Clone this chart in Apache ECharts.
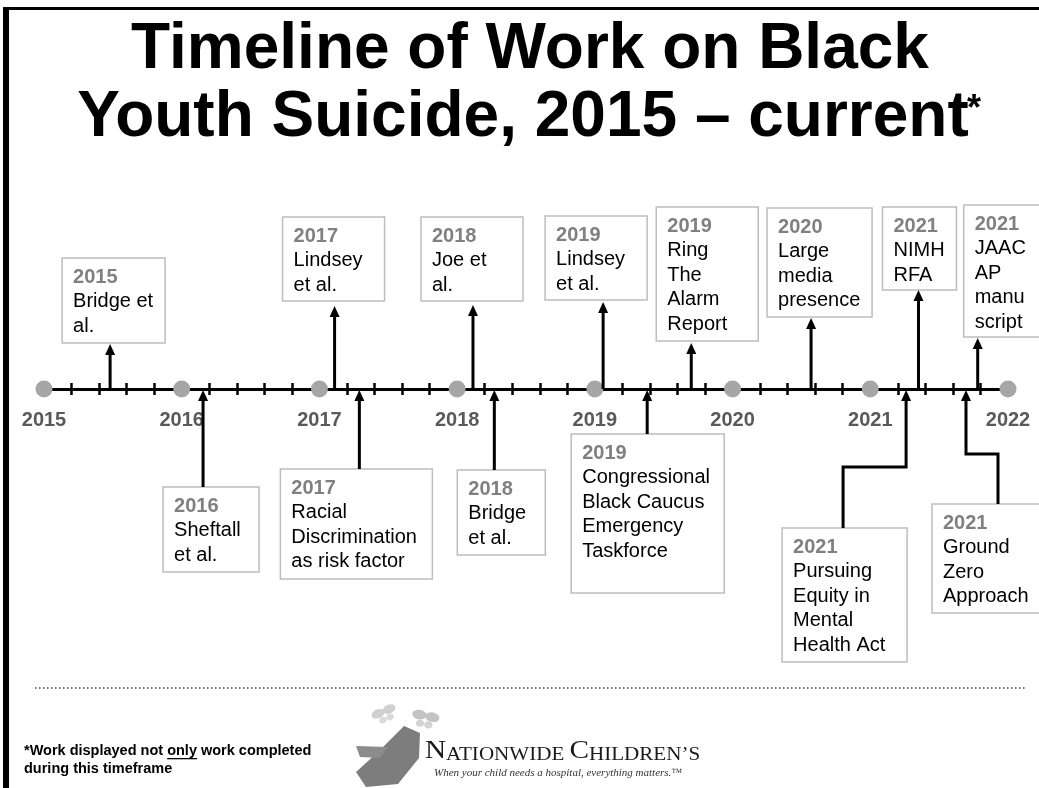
<!DOCTYPE html>
<html><head><meta charset="utf-8">
<script src="https://cdn.jsdelivr.net/npm/echarts@6/dist/echarts.min.js"></script>
<style>html,body{margin:0;padding:0;background:#fff}#c{width:1039px;height:788px}</style>
</head><body><div id="c"></div>
<script>
// ---------------- DATA ----------------
const yearTicks = [2015, 2016, 2017, 2018, 2019, 2020, 2021, 2022];
const yearLabels = ['2015', '2016', '2017', '2018', '2019', '2020', '2021', '2022'];
const eventDates = [2015.48, 2016.155, 2017.11, 2017.29, 2018.115, 2018.27, 2019.06, 2019.38, 2019.70, 2020.57, 2021.26, 2021.35, 2021.695, 2021.78];
const eventYears = ['2015', '2016', '2017', '2017', '2018', '2018', '2019', '2019', '2019', '2020', '2021', '2021', '2021', '2021'];
const eventTexts = [
  'Bridge et\nal.',
  'Sheftall\net al.',
  'Lindsey\net al.',
  'Racial\nDiscrimination\nas risk factor',
  'Joe et\nal.',
  'Bridge\net al.',
  'Lindsey\net al.',
  'Congressional\nBlack Caucus\nEmergency\nTaskforce',
  'Ring\nThe\nAlarm\nReport',
  'Large\nmedia\npresence',
  'Pursuing\nEquity in\nMental\nHealth Act',
  'NIMH\nRFA',
  'Ground\nZero\nApproach',
  'JAAC\nAP\nmanu\nscript'
];
const eventSide = ['up', 'down', 'up', 'down', 'up', 'down', 'up', 'down', 'up', 'up', 'down', 'up', 'down', 'up'];
const titleLines = ['Timeline of Work on Black', 'Youth Suicide, 2015 \u2013 current'];
const footnoteParts = ['*Work displayed not ', 'only', ' work completed'];
const footnoteLine2 = 'during this timeframe';

// ---------------- LAYOUT (box geometry relative to the event anchor) ----------------
const boxLayout = [
  {dx: -48, top: 131, w: 103, h: 85, gap: 1},
  {dx: -40, top: -98, w: 96, h: 85},
  {dx: -52, top: 172, w: 102, h: 84, gap: 5},
  {dx: -79, top: -80, w: 152, h: 110},
  {dx: -52, top: 172, w: 102, h: 84, gap: 4},
  {dx: -37, top: -81, w: 88, h: 85},
  {dx: -58, top: 173, w: 102, h: 84, gap: 2},
  {dx: -76, top: -45, w: 153, h: 159},
  {dx: -35, top: 182, w: 102, h: 134, gap: 2},
  {dx: -44, top: 181, w: 105, h: 109, gap: 1},
  {dx: -124, top: -139, w: 125, h: 134, elbow: {y: -78, dx: -63}},
  {dx: -36, top: 182, w: 74, h: 83, gap: 0},
  {dx: -34, top: -115, w: 110, h: 109, elbow: {y: -65, dx: 32}},
  {dx: -14, top: 184, w: 80, h: 132, gap: 1}
];

const FONT = '"Liberation Sans", Arial, Helvetica, sans-serif';
const SERIF = '"Liberation Serif", "Times New Roman", serif';

function renderItem(params, api) {
  const i = params.dataIndex;
  const L = boxLayout[i];
  const a = api.coord([api.value(0), 0]);
  const ax = a[0], ay = a[1];
  const top = api.coord([api.value(0), L.top])[1];
  const bx = ax + L.dx;
  const children = [];
  children.push({type: 'rect', shape: {x: bx, y: top, width: L.w, height: L.h},
    style: {fill: '#fff', stroke: '#bdbdbd', lineWidth: 1.5}});
  const lines = [eventYears[i]].concat(eventTexts[i].split('\n'));
  lines.forEach(function (t, k) {
    children.push({type: 'text', style: {
      text: t, x: bx + 11, y: top + 19 + k * 24.6, align: 'left', verticalAlign: 'middle',
      fontSize: 20, fontWeight: k === 0 ? 'bold' : 'normal', fontFamily: FONT,
      fill: k === 0 ? '#808080' : '#000'
    }});
  });
  let pts, tipY;
  if (eventSide[i] === 'up') {
    tipY = top + L.h + L.gap;
    pts = [[ax, ay], [ax, tipY + 9]];
  } else {
    tipY = ay + 1;
    if (L.elbow) {
      const sx = ax + L.elbow.dx;
      const ey = api.coord([api.value(0), L.elbow.y])[1];
      pts = [[sx, top], [sx, ey], [ax, ey], [ax, tipY + 9]];
    } else {
      pts = [[ax, top], [ax, tipY + 9]];
    }
  }
  children.push({type: 'polyline', shape: {points: pts},
    style: {stroke: '#000', lineWidth: 3, fill: null, lineJoin: 'miter'}});
  children.push({type: 'polygon', shape: {points: [[ax, tipY], [ax - 5, tipY + 11], [ax + 5, tipY + 11]]},
    style: {fill: '#000'}});
  return {type: 'group', children: children};
}

// underline measurement for footnote
const mctx = document.createElement('canvas').getContext('2d');
mctx.font = 'bold 14.5px "Liberation Sans"';
const ulStart = 24 + mctx.measureText(footnoteParts[0]).width;
const ulWidth = mctx.measureText(footnoteParts[1]).width;

function butterfly(cx, cy, s, rot, c1, c2) {
  return {type: 'group', x: cx, y: cy, rotation: rot, children: [
    {type: 'ellipse', shape: {cx: -s * 0.55, cy: -s * 0.35, rx: s * 0.6, ry: s * 0.4}, style: {fill: c1}},
    {type: 'ellipse', shape: {cx: s * 0.55, cy: -s * 0.35, rx: s * 0.6, ry: s * 0.4}, style: {fill: c1}},
    {type: 'ellipse', shape: {cx: -s * 0.35, cy: s * 0.35, rx: s * 0.35, ry: s * 0.3}, style: {fill: c2}},
    {type: 'ellipse', shape: {cx: s * 0.35, cy: s * 0.35, rx: s * 0.35, ry: s * 0.3}, style: {fill: c2}}
  ]};
}

const axisBase = {
  type: 'value', min: 2015, max: 2022, interval: 0.2, z: 1,
  axisLabel: {show: false},
  axisTick: {show: true, length: 6, lineStyle: {color: '#000', width: 2.5}},
  splitLine: {show: false}
};

const chart = echarts.init(document.getElementById('c'), null, {renderer: 'canvas'});
chart.setOption({
  animation: false,
  backgroundColor: '#fff',
  grid: {left: 44, right: 31, top: 0, bottom: 0, outerBoundsMode: 'none'},
  xAxis: [Object.assign({}, axisBase, {
    position: 'bottom',
    axisLine: {show: true, onZero: true, onZeroAxisIndex: 0, lineStyle: {color: '#000', width: 3}}
  }), Object.assign({}, axisBase, {
    position: 'top',
    axisLine: {show: true, onZero: true, onZeroAxisIndex: 1, lineStyle: {color: '#000', width: 3}}
  })],
  yAxis: [
    {type: 'value', min: -399, max: 389, show: false, splitLine: {show: false}},
    {type: 'value', min: -399, max: 389, show: false, splitLine: {show: false}}
  ],
  series: [{
    type: 'scatter', xAxisIndex: 0, yAxisIndex: 0, symbol: 'circle', symbolSize: 17, z: 20,
    itemStyle: {color: '#a6a6a6', opacity: 1},
    label: {
      show: true, position: 'bottom', distance: 13, fontSize: 20, fontWeight: 'bold', fontFamily: FONT,
      color: '#595959',
      formatter: function (p) { return yearLabels[p.dataIndex]; }
    },
    data: yearTicks.map(function (y) { return [y, 0]; })
  }, {
    type: 'custom', xAxisIndex: 0, yAxisIndex: 0, z: 30, renderItem: renderItem,
    data: eventDates.map(function (d, i) { return [d, i]; })
  }],
  graphic: [
    {type: 'rect', z: 100, shape: {x: 3, y: 7, width: 6, height: 781}, style: {fill: '#000'}},
    {type: 'rect', z: 100, shape: {x: 3, y: 7, width: 1036, height: 3}, style: {fill: '#000'}},
    {type: 'text', x: 530, y: 50, style: {text: titleLines[0], fontSize: 64, fontWeight: 'bold', fontFamily: FONT,
      fill: '#000', align: 'center', verticalAlign: 'middle'}},
    {type: 'text', x: 523, y: 118, style: {text: titleLines[1], fontSize: 64, fontWeight: 'bold', fontFamily: FONT,
      fill: '#000', align: 'center', verticalAlign: 'middle'}},
    {type: 'text', x: 967, y: 110, style: {text: '*', fontSize: 36, fontWeight: 'bold', fontFamily: FONT,
      fill: '#000', align: 'left', verticalAlign: 'middle'}},
    {type: 'line', shape: {x1: 35, y1: 688, x2: 1025, y2: 688},
      style: {stroke: '#444', lineWidth: 1.5, lineDash: [1.5, 2.5]}},
    {type: 'text', x: 24, y: 751, style: {text: footnoteParts.join(''), fontSize: 14.5, fontWeight: 'bold',
      fontFamily: FONT, fill: '#000', align: 'left', verticalAlign: 'middle'}},
    {type: 'rect', shape: {x: ulStart, y: 758, width: ulWidth, height: 1.3}, style: {fill: '#000'}},
    {type: 'text', x: 24, y: 769, style: {text: footnoteLine2, fontSize: 14.5, fontWeight: 'bold',
      fontFamily: FONT, fill: '#000', align: 'left', verticalAlign: 'middle'}},
    // logo
    {type: 'polygon', shape: {points: [[404, 726], [420, 733], [419, 758], [398, 784], [366, 787], [356, 772], [378, 752]]},
      style: {fill: '#7d7d7d'}},
    {type: 'polygon', shape: {points: [[356, 746], [388, 747], [380, 758], [360, 757]]}, style: {fill: '#8c8c8c'}},
    butterfly(385, 715, 11, 0.4, '#cfcfcf', '#dadada'),
    butterfly(425, 720, 12, -0.2, '#c4c4c4', '#d4d4d4'),
    {type: 'text', x: 425, y: 764, scaleX: 1.17, style: {
      text: '{b|N}{s|ATIONWIDE }{b|C}{s|HILDREN\u2019S}', align: 'left', verticalAlign: 'bottom',
      rich: {
        b: {fontSize: 25, fontFamily: SERIF, fill: '#1a1a1a', verticalAlign: 'bottom', lineHeight: 25},
        s: {fontSize: 18, fontFamily: SERIF, fill: '#1a1a1a', verticalAlign: 'bottom', lineHeight: 25}
      }}},
    {type: 'text', x: 434, y: 773, style: {text: 'When your child needs a hospital, everything matters.\u2122',
      fontSize: 11, fontStyle: 'italic', fontFamily: SERIF, fill: '#333', align: 'left', verticalAlign: 'middle'}}
  ]
});
</script></body></html>
